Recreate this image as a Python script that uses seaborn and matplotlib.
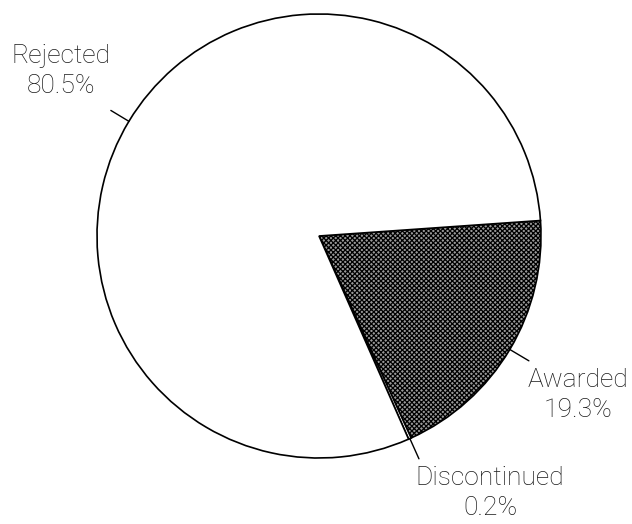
import numpy as np
import matplotlib
matplotlib.use("Agg")
import matplotlib.pyplot as plt
import seaborn as sns

# Data
categories = ["Awarded", "Discontinued", "Rejected"]
shares = [19.3, 0.2, 80.5]
pct_labels = ["19.3%", "0.2%", "80.5%"]

sns.set_theme(style="white")
plt.rcParams["font.family"] = ["Roboto", "DejaVu Sans"]
plt.rcParams["hatch.linewidth"] = 0.9

W, H = 632, 524
fig = plt.figure(figsize=(W / 100, H / 100), dpi=100)
ax = fig.add_axes([0, 0, 1, 1])

cx, cy, R = 319, H - 236, 222
wedges, _ = ax.pie(
    shares, startangle=4, counterclock=False, center=(cx, cy), radius=R,
    colors=["#9a9a9a", "white", "white"],
    wedgeprops=dict(edgecolor="black", linewidth=1.2),
    frame=True,
)
wedges[0].set_hatch("xxxxxxx")
ax.set_xlim(0, W)
ax.set_ylim(0, H)
ax.axis("off")

# label layout: (line end radius factor, text radius factor, text angle offset deg)
layout = [(1.10, 1.37, -0.8), (1.10, 1.39, 9.5), (1.095, 1.38, -1.5)]
for w, cat, pl, (r_line, r_txt, d_ang) in zip(wedges, categories, pct_labels, layout):
    ang = np.deg2rad((w.theta1 + w.theta2) / 2)
    x0, y0 = cx + R * np.cos(ang), cy + R * np.sin(ang)
    x1, y1 = cx + R * r_line * np.cos(ang), cy + R * r_line * np.sin(ang)
    ax.plot([x0, x1], [y0, y1], color="black", lw=1.0)
    ta = ang + np.deg2rad(d_ang)
    tx, ty = cx + R * r_txt * np.cos(ta), cy + R * r_txt * np.sin(ta)
    ax.text(tx, ty, f"{cat}\n{pl}", ha="center", va="center", multialignment="center",
            fontsize=19, fontweight="light", color="#1a1a1a", linespacing=1.3)

fig.savefig("out.png", dpi=100, facecolor="white")
